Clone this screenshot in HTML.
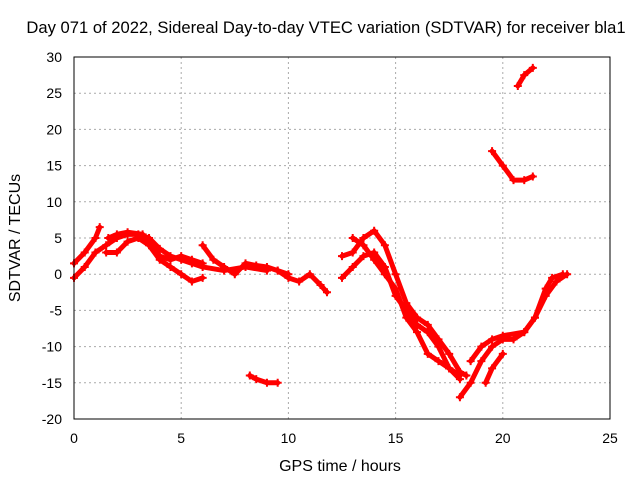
<!DOCTYPE html>
<html><head><meta charset="utf-8"><style>
body{margin:0;background:#fff}
svg{display:block;font-family:"Liberation Sans",sans-serif}
</style></head><body>
<svg id="c" width="640" height="480">
<text x="326" y="33" font-size="16.6" text-anchor="middle">Day 071 of 2022, Sidereal Day-to-day VTEC variation (SDTVAR) for receiver bla1</text>
<text x="340" y="471" font-size="16" text-anchor="middle">GPS time / hours</text>
<text transform="translate(20,238) rotate(-90)" font-size="16" text-anchor="middle">SDTVAR / TECUs</text>
<g id="grid"></g>
<g id="ticks"></g>
<g id="series"></g>
<rect x="74" y="57" width="536" height="362" fill="none" stroke="#000"/>
</svg>
<script>
const xTicks=[0,5,10,15,20,25];
const yTicks=[-20,-15,-10,-5,0,5,10,15,20,25,30];
const track1=[[0,1.5],[0.5,3],[1,5],[1.2,6.5]];
const track2=[[0,-0.5],[0.5,1],[1,3],[1.5,4],[2,5],[2.5,5.5],[3,5.5],[3.5,5],[4,3.5],[4.5,2.5],[5,2],[5.5,1.5],[6,1],[7,0.5],[8,1],[9,0.5]];
const track3=[[1.5,3],[2,3],[2.5,4.5],[3,5],[3.5,4],[4,2],[4.5,1],[5,0],[5.5,-1],[6,-0.5]];
const track4=[[1.6,5],[2,5.5],[2.5,5.8],[3.2,5.5],[3.6,4],[4,2.5],[4.5,2],[5,2.5],[5.5,2],[6,1.5]];
const track5=[[6,4],[6.5,2],[7,1],[7.5,0],[8,1.5],[8.5,1.2],[9,1],[9.5,0.5],[10,0]];
const track6=[[9.5,0.5],[10,-0.5],[10.5,-1],[11,0],[11.5,-1.5],[11.8,-2.5]];
const track7=[[12.5,-0.5],[13,1],[13.5,2.5],[14,3],[14.5,1],[15,-3],[15.5,-5],[16,-7],[16.5,-8],[17,-10],[17.5,-13],[18,-14]];
const track8=[[12.5,2.5],[13,3],[13.5,5],[14,6],[14.5,4],[15,0],[15.5,-4],[16,-6],[16.5,-7],[17,-9],[17.5,-11],[18,-13.5],[18.3,-14]];
const track9=[[13,5],[13.5,4],[14,2],[14.5,0],[15,-2],[15.5,-6],[16,-8],[16.5,-11],[17,-12],[17.5,-13],[18,-14.5]];
const track10=[[18,-17],[18.5,-15],[19,-12],[19.5,-10],[20,-9],[20.5,-9],[21,-8],[21.5,-6],[22,-3],[22.5,-1],[23,0]];
const track11=[[18.5,-12],[19,-10],[19.5,-9],[20,-8.5],[21,-8],[21.5,-6],[22,-2],[22.3,-0.5],[22.8,0]];
const track12=[[19.2,-15],[19.5,-13],[20,-11]];
const track13=[[8.2,-14],[8.5,-14.5],[9,-15],[9.5,-15]];
const track14=[[19.5,17],[20,15],[20.5,13],[21,13],[21.4,13.5]];
const track15=[[20.7,26],[21,27.5],[21.4,28.5]];
const tracks=[track1,track2,track3,track4,track5,track6,track7,track8,track9,track10,track11,track12,track13,track14,track15];
const X=v=>74+v/25*536, Y=v=>419-(v+20)/50*362;
const NS="http://www.w3.org/2000/svg";
const g=document.getElementById('grid'),t=document.getElementById('ticks'),s=document.getElementById('series');
function mk(tag,at,p){const e=document.createElementNS(NS,tag);for(const k in at)e.setAttribute(k,at[k]);p.appendChild(e);return e;}
xTicks.forEach(v=>{
 const l=mk('line',{x1:X(v),x2:X(v),y1:57,y2:419,stroke:'#aaa','stroke-dasharray':'2,3'},g);
 
 
 const tx=mk('text',{x:X(v),y:443,'font-size':14,'text-anchor':'middle'},t);tx.textContent=v;
 
 
});
yTicks.forEach(v=>{
 const l=mk('line',{x1:74,x2:610,y1:Y(v),y2:Y(v),stroke:'#aaa','stroke-dasharray':'2,3'},g);
 
 
 const tx=mk('text',{x:62,y:Y(v)+5,'font-size':14,'text-anchor':'end'},t);tx.textContent=v;
 
 
});
tracks.forEach(tr=>{
 const pl=mk('polyline',{points:tr.map(p=>X(p[0])+','+Y(p[1])).join(' '),fill:'none',stroke:'#f00','stroke-width':5,'stroke-linejoin':'round','stroke-linecap':'round'},s);
 
 
 tr.forEach(p=>{
  const x=X(p[0]),y=Y(p[1]);
  const m=mk('path',{d:`M${x-4},${y}h8M${x},${y-4}v8`,stroke:'#f00','stroke-width':2},s);
  
  
 });
});
</script>
</body></html>
